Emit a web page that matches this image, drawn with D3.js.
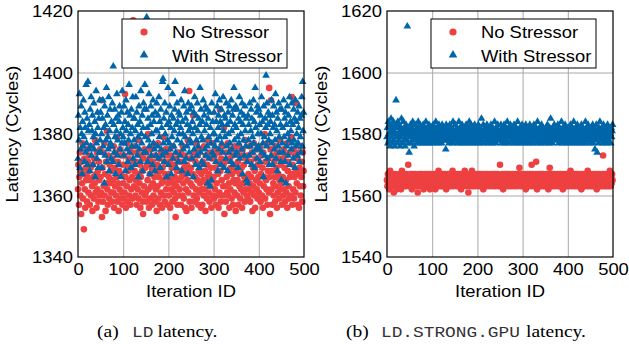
<!DOCTYPE html>
<html>
<head>
<meta charset="utf-8">
<script src="https://cdn.jsdelivr.net/npm/d3@7"></script>
<style>
  body { margin: 0; background: #fff; }
  svg { display: block; }
  .tick text, .lab { font-family: "Liberation Sans", Arial, sans-serif; font-size: 16px; fill: #000; }
  .cap { font-family: "Liberation Serif", "Times New Roman", serif; font-size: 17px; fill: #000; }
  .mono { font-family: "Liberation Mono", "Courier New", monospace; font-size: 15.5px; fill: #333; }
</style>
</head>
<body>
<svg id="fig" width="629" height="346"></svg>
<script>
// iteration ids and tick values
var xTicks = [0, 100, 200, 300, 400, 500];
var ldTicks = [1340, 1360, 1380, 1400, 1420];
var strongTicks = [1540, 1560, 1580, 1600, 1620];
var seriesNames = ["No Stressor", "With Stressor"];

// (a) LD latency, no stressor
var ldNo = [
1362,1370,1357,1366,1374,1360,1368,1354,1371,1364,1377,1359,1367,1349,1372,1362,1356,1369,1365,1375,1358,1366,1371,1361,1368,
1373,1357,1365,1369,1360,1376,1363,1355,1370,1366,1359,1372,1364,1378,1361,1367,1356,1374,1362,1368,1358,1371,1365,1360,1375,
1366,1361,1391,1353,1369,1358,1374,1363,1377,1360,1367,1355,1371,1364,1381,1362,1357,1373,1366,1359,1370,1364,1376,1361,1368,
1358,1372,1365,1361,1376,1356,1369,1363,1374,1360,1366,1379,1358,1371,1364,1355,1368,1362,1375,1359,1367,1373,1361,1357,1370,
1364,1359,1373,1361,1393,1366,1356,1370,1363,1377,1358,1368,1372,1360,1365,1375,1357,1369,1362,1374,1366,1359,1417,1371,1363,
1368,1376,1360,1365,1371,1357,1374,1362,1367,1359,1378,1364,1370,1356,1366,1373,1361,1368,1358,1354,1372,1363,1375,1360,1369,
1361,1374,1358,1370,1365,1380,1362,1356,1372,1367,1359,1375,1363,1369,1357,1371,1364,1360,1376,1366,1358,1373,1362,1368,1355,
1370,1363,1377,1359,1366,1372,1357,1368,1361,1374,1364,1356,1369,1365,1379,1360,1371,1358,1367,1375,1362,1366,1373,1357,1364,
1375,1360,1367,1371,1356,1365,1373,1362,1369,1358,1376,1364,1361,1370,1366,1359,1353,1372,1363,1368,1357,1374,1365,1360,1371,
1362,1368,1374,1357,1366,1371,1360,1376,1364,1359,1369,1373,1356,1367,1362,1355,1370,1365,1378,1361,1368,1394,1358,1372,1364,
1369,1356,1372,1363,1367,1386,1360,1374,1358,1366,1371,1362,1377,1359,1365,1373,1357,1368,1361,1375,1364,1370,1356,1367,1362,
1357,1371,1365,1360,1376,1362,1368,1355,1373,1364,1359,1370,1366,1378,1361,1367,1358,1374,1363,1369,1356,1372,1365,1360,1377,
1366,1359,1373,1362,1369,1357,1375,1364,1360,1371,1367,1356,1374,1361,1388,1368,1358,1372,1365,1376,1360,1363,1370,1382,1354,
1371,1363,1358,1374,1366,1361,1377,1360,1368,1364,1356,1372,1362,1369,1375,1359,1367,1373,1357,1365,1370,1361,1376,1364,1355,
1368,1374,1360,1365,1371,1357,1376,1363,1367,1359,1373,1362,1369,1356,1375,1364,1361,1370,1366,1358,1378,1362,1372,1365,1360,
1373,1359,1367,1362,1376,1364,1358,1371,1366,1361,1374,1355,1369,1363,1377,1360,1368,1356,1372,1365,1362,1375,1359,1370,1366,
1361,1370,1364,1376,1358,1367,1373,1360,1369,1356,1374,1363,1366,1380,1359,1371,1365,1362,1377,1357,1368,1372,1361,1395,1366,
1354,1375,1391,1362,1368,1357,1373,1364,1360,1371,1366,1358,1376,1363,1369,1356,1374,1361,1367,1372,1359,1365,1378,1362,1370,
1364,1357,1372,1366,1360,1375,1362,1369,1358,1373,1365,1361,1377,1356,1368,1371,1363,1359,1374,1366,1360,1379,1367,1392,1357,
1370,1362,1375,1359,1366,1373,1361,1368,1390,1364,1372,1357,1367,1374,1356,1369,1363,1376,1360,1366,1371,1358,1374,1363,1368
];

// (a) LD latency, with stressor
var ldWith = [
1372,1386,1378,1393,1369,1382,1375,1389,1380,1367,1384,1376,1391,1379,1371,1387,1382,1374,1396,1377,1385,1370,1397,1381,1375,
1383,1368,1388,1376,1392,1373,1381,1386,1370,1379,1390,1375,1384,1366,1380,1394,1377,1372,1387,1382,1369,1385,1374,1391,1378,
1387,1374,1380,1369,1385,1391,1376,1382,1364,1389,1373,1383,1378,1395,1371,1386,1379,1375,1392,1368,1381,1388,1377,1372,1384,
1376,1390,1371,1402,1383,1374,1388,1379,1367,1385,1381,1393,1373,1378,1386,1370,1384,1389,1375,1380,1366,1387,1377,1394,1382,
1379,1373,1389,1377,1384,1368,1391,1381,1375,1387,1371,1383,1378,1396,1374,1386,1380,1369,1388,1376,1382,1392,1372,1385,1378,
1385,1370,1381,1392,1376,1387,1373,1383,1379,1366,1389,1375,1384,1371,1394,1380,1377,1386,1368,1382,1390,1374,1388,1396,1379,
1374,1388,1418,1382,1371,1385,1378,1393,1376,1367,1383,1389,1373,1380,1386,1370,1391,1377,1384,1375,1368,1387,1381,1373,1390,
1381,1376,1386,1372,1392,1379,1384,1369,1388,1375,1382,1373,1397,1398,1377,1385,1371,1390,1380,1374,1387,1366,1383,1378,1395,
1370,1384,1377,1389,1375,1382,1367,1386,1379,1393,1372,1385,1376,1381,1388,1397,1374,1383,1369,1390,1378,1384,1371,1387,1380,
1386,1373,1382,1391,1377,1368,1384,1380,1375,1389,1371,1394,1379,1385,1372,1387,1376,1383,1367,1390,1381,1374,1388,1378,1382,
1377,1389,1372,1384,1380,1366,1387,1375,1392,1382,1370,1386,1378,1373,1390,1381,1376,1385,1369,1383,1395,1374,1388,1379,1371,
1384,1378,1391,1370,1386,1381,1375,1389,1373,1383,1388,1376,1364,1385,1379,1372,1387,1363,1382,1377,1365,1390,1374,1384,1380,
1373,1387,1380,1376,1393,1371,1384,1378,1389,1368,1382,1386,1375,1391,1379,1384,1370,1388,1377,1383,1374,1392,1381,1369,1386,
1379,1385,1372,1390,1376,1383,1368,1387,1380,1374,1389,1377,1384,1371,1391,1381,1375,1386,1370,1388,1395,1378,1383,1373,1389,
1382,1374,1388,1379,1369,1385,1377,1392,1372,1384,1380,1387,1375,1390,1367,1383,1378,1386,1373,1389,1381,1376,1385,1365,1371,
1364,1386,1378,1383,1373,1390,1376,1381,1388,1370,1385,1379,1374,1391,1377,1384,1369,1395,1382,1375,1387,1372,1389,1380,1376,
1388,1375,1383,1371,1386,1380,1392,1374,1384,1377,1366,1389,1379,1373,1385,1382,1399,1376,1390,1372,1383,1387,1378,1370,1386,
1380,1384,1373,1391,1377,1386,1370,1382,1389,1375,1383,1378,1393,1372,1387,1381,1368,1385,1376,1390,1379,1374,1388,1383,1371,
1365,1388,1377,1382,1374,1391,1379,1385,1371,1387,1364,1383,1376,1389,1380,1373,1386,1378,1392,1370,1384,1381,1375,1390,1377,
1383,1372,1388,1378,1385,1369,1391,1376,1384,1380,1373,1387,1377,1382,1389,1371,1385,1379,1374,1386,1392,1376,1397,1381,1387
];

// (b) LD.STRONG.GPU latency, no stressor
var strongNo = [
1565,1563,1567,1564,1566,1562,1565,1568,1564,1566,1563,1565,1567,1564,1566,1561,1565,1563,1567,1566,1564,1565,1562,1566,1564,
1566,1564,1567,1563,1565,1566,1562,1565,1568,1564,1566,1563,1565,1567,1564,1566,1565,1563,1567,1564,1566,1565,1570,1564,1566,
1563,1565,1567,1564,1566,1562,1565,1564,1567,1563,1566,1565,1564,1567,1565,1563,1566,1564,1561,1566,1565,1563,1567,1564,1566,
1565,1564,1567,1563,1566,1565,1562,1566,1564,1567,1565,1563,1566,1564,1565,1567,1563,1566,1564,1565,1562,1567,1565,1564,1566,
1564,1566,1563,1567,1565,1564,1566,1562,1565,1567,1564,1566,1563,1565,1568,1564,1566,1565,1563,1567,1564,1566,1565,1563,1567,
1565,1563,1566,1564,1567,1565,1562,1566,1564,1565,1567,1563,1566,1565,1564,1567,1563,1565,1566,1564,1568,1565,1563,1566,1564,
1566,1564,1567,1565,1563,1566,1564,1565,1567,1563,1566,1565,1564,1567,1562,1566,1565,1563,1567,1564,1566,1565,1568,1564,1566,
1565,1563,1567,1564,1566,1561,1565,1564,1567,1563,1566,1565,1564,1568,1565,1563,1566,1564,1567,1565,1563,1566,1564,1565,1567,
1564,1566,1563,1565,1567,1564,1566,1565,1563,1567,1564,1566,1565,1562,1566,1564,1567,1565,1563,1566,1564,1565,1567,1564,1566,
1565,1563,1566,1564,1567,1565,1564,1566,1563,1565,1567,1564,1566,1565,1563,1567,1564,1566,1565,1564,1567,1563,1566,1565,1564,
1570,1565,1563,1566,1564,1567,1565,1562,1566,1564,1565,1567,1563,1566,1564,1565,1567,1564,1566,1563,1565,1567,1564,1566,1565,
1563,1566,1564,1567,1565,1564,1566,1563,1565,1567,1564,1566,1565,1563,1567,1564,1566,1565,1569,1564,1566,1563,1565,1567,1564,
1566,1565,1563,1567,1564,1566,1565,1562,1566,1564,1567,1565,1563,1566,1564,1565,1567,1564,1566,1563,1570,1565,1567,1564,1566,
1565,1563,1566,1564,1567,1571,1565,1562,1566,1564,1565,1567,1563,1566,1565,1564,1567,1563,1566,1565,1564,1567,1563,1566,1565,
1564,1566,1563,1567,1565,1564,1566,1562,1565,1567,1569,1563,1566,1565,1564,1567,1563,1565,1566,1564,1567,1565,1563,1566,1564,
1566,1564,1567,1565,1563,1566,1564,1565,1567,1563,1566,1565,1564,1567,1562,1566,1565,1563,1567,1564,1566,1565,1563,1567,1564,
1565,1567,1563,1566,1564,1565,1568,1564,1566,1563,1565,1567,1564,1566,1565,1563,1567,1564,1566,1565,1563,1567,1564,1566,1565,
1563,1566,1564,1567,1565,1562,1566,1564,1565,1567,1563,1566,1565,1564,1567,1563,1566,1565,1564,1568,1563,1566,1565,1564,1567,
1565,1563,1566,1564,1567,1565,1563,1566,1564,1565,1567,1563,1566,1565,1562,1567,1564,1566,1565,1563,1567,1564,1566,1565,1563,
1566,1564,1567,1573,1565,1563,1566,1564,1567,1565,1563,1566,1564,1565,1567,1563,1566,1564,1568,1565,1563,1566,1564,1567,1565
];

// (b) LD.STRONG.GPU latency, with stressor
var strongWith = [
1579,1582,1577,1584,1580,1578,1583,1576,1581,1585,1579,1577,1582,1580,1584,1578,1581,1576,1583,1580,1591,1579,1582,1577,1584,
1580,1578,1583,1581,1576,1579,1582,1585,1580,1577,1581,1584,1578,1580,1582,1576,1579,1583,1581,1578,1615,1580,1582,1577,1574,
1581,1579,1583,1577,1580,1582,1578,1584,1579,1581,1576,1580,1583,1578,1581,1579,1582,1577,1580,1584,1578,1581,1579,1583,1577,
1580,1582,1578,1581,1579,1583,1577,1580,1582,1578,1581,1584,1579,1580,1577,1582,1580,1578,1583,1579,1581,1577,1580,1582,1579,
1581,1578,1583,1580,1577,1582,1579,1581,1584,1578,1580,1582,1579,1577,1581,1583,1580,1578,1582,1579,1581,1577,1583,1580,1578,
1582,1580,1578,1581,1579,1575,1583,1580,1578,1582,1579,1581,1577,1580,1583,1578,1581,1579,1582,1580,1577,1584,1579,1581,1578,
1580,1583,1578,1581,1579,1582,1577,1580,1581,1584,1579,1578,1582,1580,1577,1581,1583,1579,1580,1578,1582,1581,1577,1580,1579,
1583,1578,1581,1580,1582,1579,1577,1584,1580,1578,1581,1583,1579,1580,1577,1582,1581,1578,1580,1583,1579,1581,1577,1582,1580,
1578,1581,1583,1579,1580,1577,1582,1580,1578,1585,1581,1579,1580,1583,1577,1581,1579,1582,1580,1578,1581,1583,1579,1580,1577,
1582,1580,1578,1581,1579,1583,1580,1577,1582,1579,1581,1578,1580,1584,1579,1581,1577,1582,1580,1578,1583,1579,1581,1580,1578,
1581,1579,1583,1580,1577,1582,1578,1581,1580,1583,1579,1577,1582,1580,1578,1581,1584,1579,1580,1582,1577,1581,1579,1583,1580,
1578,1582,1580,1579,1581,1577,1583,1580,1578,1581,1579,1582,1580,1577,1584,1579,1581,1580,1578,1582,1579,1581,1577,1580,1583,
1579,1581,1578,1582,1580,1577,1581,1583,1579,1580,1578,1582,1581,1579,1577,1580,1583,1578,1581,1579,1582,1580,1577,1581,1579,
1583,1580,1578,1581,1579,1582,1580,1577,1584,1579,1581,1578,1580,1582,1579,1577,1581,1583,1580,1578,1582,1579,1581,1580,1577,
1581,1579,1582,1580,1578,1583,1579,1581,1577,1580,1582,1579,1585,1578,1581,1580,1577,1582,1579,1581,1583,1578,1580,1579,1582,
1578,1581,1580,1583,1579,1577,1582,1580,1578,1581,1579,1584,1580,1577,1582,1579,1581,1578,1580,1583,1579,1581,1577,1582,1580,
1579,1582,1578,1581,1580,1577,1583,1579,1581,1578,1582,1580,1579,1584,1577,1581,1580,1578,1582,1579,1581,1583,1577,1580,1579,
1582,1580,1578,1581,1579,1583,1577,1580,1582,1578,1581,1579,1580,1577,1584,1581,1579,1582,1578,1580,1583,1579,1581,1577,1580,
1581,1579,1582,1578,1580,1583,1577,1581,1579,1582,1575,1580,1578,1583,1579,1574,1581,1580,1577,1582,1579,1584,1580,1578,1581,
1579,1582,1580,1577,1583,1579,1581,1578,1580,1582,1579,1577,1581,1583,1580,1578,1582,1579,1581,1580,1577,1582,1579,1581,1583
];

var RED = "#ee4040", BLUE = "#0066aa";
var SX = 1.15; // text in the source figure is slightly wide

var svg = d3.select("#fig");
var plotTop = 11, plotBottom = 257;

var panels = [
  {left: 78, right: 304, dom: [1340, 1420], ticks: ldTicks, no: ldNo, with: ldWith,
   cap: [["(a)", 97, "cap"], ["LD", 132, "mono"], ["latency.", 157.5, "cap"]]},
  {left: 387, right: 613, dom: [1540, 1620], ticks: strongTicks, no: strongNo, with: strongWith,
   cap: [["(b)", 346, "cap"], ["LD.STRONG.GPU", 381, "mono"], ["latency.", 526, "cap"]]}
];

var tri = d3.symbol().type(d3.symbolTriangle).size(26);

panels.forEach(function(p) {
  var x = d3.scaleLinear().domain([0, 500]).range([p.left, p.right]);
  var y = d3.scaleLinear().domain(p.dom).range([plotBottom, plotTop]);
  var g = svg.append("g");

  // grid
  g.append("g")
    .attr("transform", "translate(0," + plotBottom + ")")
    .call(d3.axisBottom(x).tickValues(xTicks.slice(1, -1)).tickSize(-(plotBottom - plotTop)).tickFormat(""))
    .call(function(a) { a.select(".domain").remove(); a.selectAll("line").attr("stroke", "#a8a8a8"); });
  g.append("g")
    .attr("transform", "translate(" + p.left + ",0)")
    .call(d3.axisLeft(y).tickValues(p.ticks.slice(1, -1)).tickSize(-(p.right - p.left)).tickFormat(""))
    .call(function(a) { a.select(".domain").remove(); a.selectAll("line").attr("stroke", "#a8a8a8"); });

  // points
  g.append("g").selectAll("circle")
    .data(p.no)
    .enter().append("circle")
      .attr("cx", function(d, i) { return x(i); })
      .attr("cy", function(d) { return y(d); })
      .attr("r", 3.3)
      .attr("fill", RED);

  g.append("g").selectAll("path")
    .data(p.with)
    .enter().append("path")
      .attr("d", tri)
      .attr("transform", function(d, i) { return "translate(" + x(i) + "," + y(d) + ")"; })
      .attr("fill", BLUE);

  // frame
  g.append("rect")
    .attr("x", p.left).attr("y", plotTop)
    .attr("width", p.right - p.left).attr("height", plotBottom - plotTop)
    .attr("fill", "none").attr("stroke", "#000").attr("stroke-width", 1.2);

  // tick labels
  g.append("g")
    .attr("transform", "translate(0," + plotBottom + ")")
    .call(d3.axisBottom(x).tickValues(xTicks).tickSize(0).tickPadding(6.6))
    .call(function(a) {
      a.select(".domain").remove();
      a.selectAll("text").attr("transform", "scale(" + SX + ",1)");
    });
  g.append("g")
    .attr("transform", "translate(" + p.left + ",0)")
    .call(d3.axisLeft(y).tickValues(p.ticks).tickFormat(d3.format("d")).tickSize(0).tickPadding(4.4))
    .call(function(a) {
      a.select(".domain").remove();
      a.selectAll("text").attr("dy", "0.36em").attr("transform", "scale(" + SX + ",1)");
    });
  g.selectAll("g").filter(function() { return this.getAttribute("font-family"); })
    .attr("font-family", null).attr("font-size", null);

  g.append("text").attr("class", "lab")
    .attr("text-anchor", "middle")
    .attr("transform", "translate(" + ((p.left + p.right) / 2) + ",297) scale(" + SX + ",1)")
    .text("Iteration ID");
  g.append("text").attr("class", "lab")
    .attr("text-anchor", "middle")
    .attr("transform", "translate(" + (p.left - 60) + "," + ((plotTop + plotBottom) / 2) + ") rotate(-90) scale(" + SX + ",1)")
    .text("Latency (Cycles)");

  // legend
  var lg = g.append("g").attr("transform", "translate(" + (p.left + 44) + ",19)");
  lg.append("rect")
    .attr("width", 165).attr("height", 49)
    .attr("fill", "#fff").attr("stroke", "#000").attr("stroke-width", 1);
  lg.append("circle").attr("cx", 22).attr("cy", 13).attr("r", 3.6).attr("fill", RED);
  lg.append("path").attr("d", d3.symbol().type(d3.symbolTriangle).size(32))
    .attr("transform", "translate(22,36)").attr("fill", BLUE);
  seriesNames.forEach(function(s, i) {
    lg.append("text").attr("class", "lab")
      .attr("transform", "translate(50," + (19 + i * 23.5) + ") scale(" + SX + ",1)")
      .text(s);
  });

  // caption
  p.cap.forEach(function(c) {
    svg.append("text")
      .attr("class", c[2] == "mono" ? "cap mono" : "cap")
      .attr("transform", "translate(" + c[1] + ",337) scale(" + SX + ",1)")
      .text(c[0]);
  });
});
</script>
</body>
</html>
